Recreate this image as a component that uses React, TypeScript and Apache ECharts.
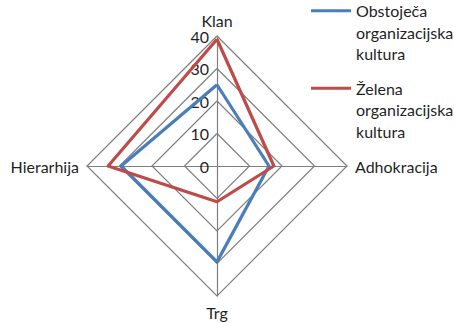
import React, { useEffect, useRef } from "react";
import * as echarts from "echarts";

// Indicators in drawing order (counter-clockwise from the top)
const categories = ["Klan", "Hierarhija", "Trg", "Adhokracija"];
const axisMax = 40;
const seriesNames = [
  "Obstoječa\norganizacijska\nkultura",
  "Želena\norganizacijska\nkultura",
];
const currentCulture = [25, 29.5, 29.5, 16];
const desiredCulture = [39, 33.5, 11, 17.5];

const FONT = "Lato, 'Open Sans', sans-serif";
const BLUE = "#4a7ebb";
const RED = "#be4b48";
const GRID = "#7f7f7f";
const TEXT = "#1f1f1f";

// Legend key: a short bar level with the first text line of a 3-line label
const LEGEND_ICON = "path://M0,0L0,0M0,9L40,9L40,12L0,12ZM0,64L0,64";

export default function App() {
  const ref = useRef<HTMLDivElement>(null);

  useEffect(() => {
    if (!ref.current) return;
    const chart = echarts.init(ref.current, undefined, { renderer: "svg" });
    chart.setOption({
      animation: false,
      textStyle: { fontFamily: FONT },
      legend: {
        orient: "vertical",
        left: 311,
        top: 0,
        padding: 0,
        itemWidth: 40,
        itemHeight: 64,
        itemGap: 13,
        icon: LEGEND_ICON,
        itemStyle: { borderWidth: 0 },
        textStyle: {
          fontFamily: FONT,
          fontSize: 16,
          color: TEXT,
          lineHeight: 21.5,
        },
        data: seriesNames,
      },
      radar: {
        center: [217, 166],
        radius: 130,
        startAngle: 90,
        shape: "polygon",
        splitNumber: 4,
        nameGap: 8,
        axisName: { color: TEXT, fontSize: 16, fontFamily: FONT },
        axisLine: { lineStyle: { color: GRID, width: 1.2 } },
        splitLine: { lineStyle: { color: GRID, width: 1.2 } },
        splitArea: { show: false },
        axisTick: { show: false },
        axisLabel: { show: false },
        indicator: categories.map((name, i) => ({
          name,
          min: 0,
          max: axisMax,
          ...(i === 0
            ? {
                axisLabel: {
                  show: true,
                  color: TEXT,
                  fontSize: 16,
                  fontFamily: FONT,
                },
              }
            : {}),
        })),
      },
      series: [
        {
          type: "radar",
          symbol: "none",
          data: [
            {
              name: seriesNames[0],
              value: currentCulture,
              lineStyle: { color: BLUE, width: 3.2 },
              itemStyle: { color: BLUE },
            },
            {
              name: seriesNames[1],
              value: desiredCulture,
              lineStyle: { color: RED, width: 3.2 },
              itemStyle: { color: RED },
            },
          ],
        },
      ],
    });
    return () => chart.dispose();
  }, []);

  return (
    <div
      ref={ref}
      style={{ position: "fixed", left: 0, top: 0, width: 454, height: 323, background: "#fff" }}
    />
  );
}
